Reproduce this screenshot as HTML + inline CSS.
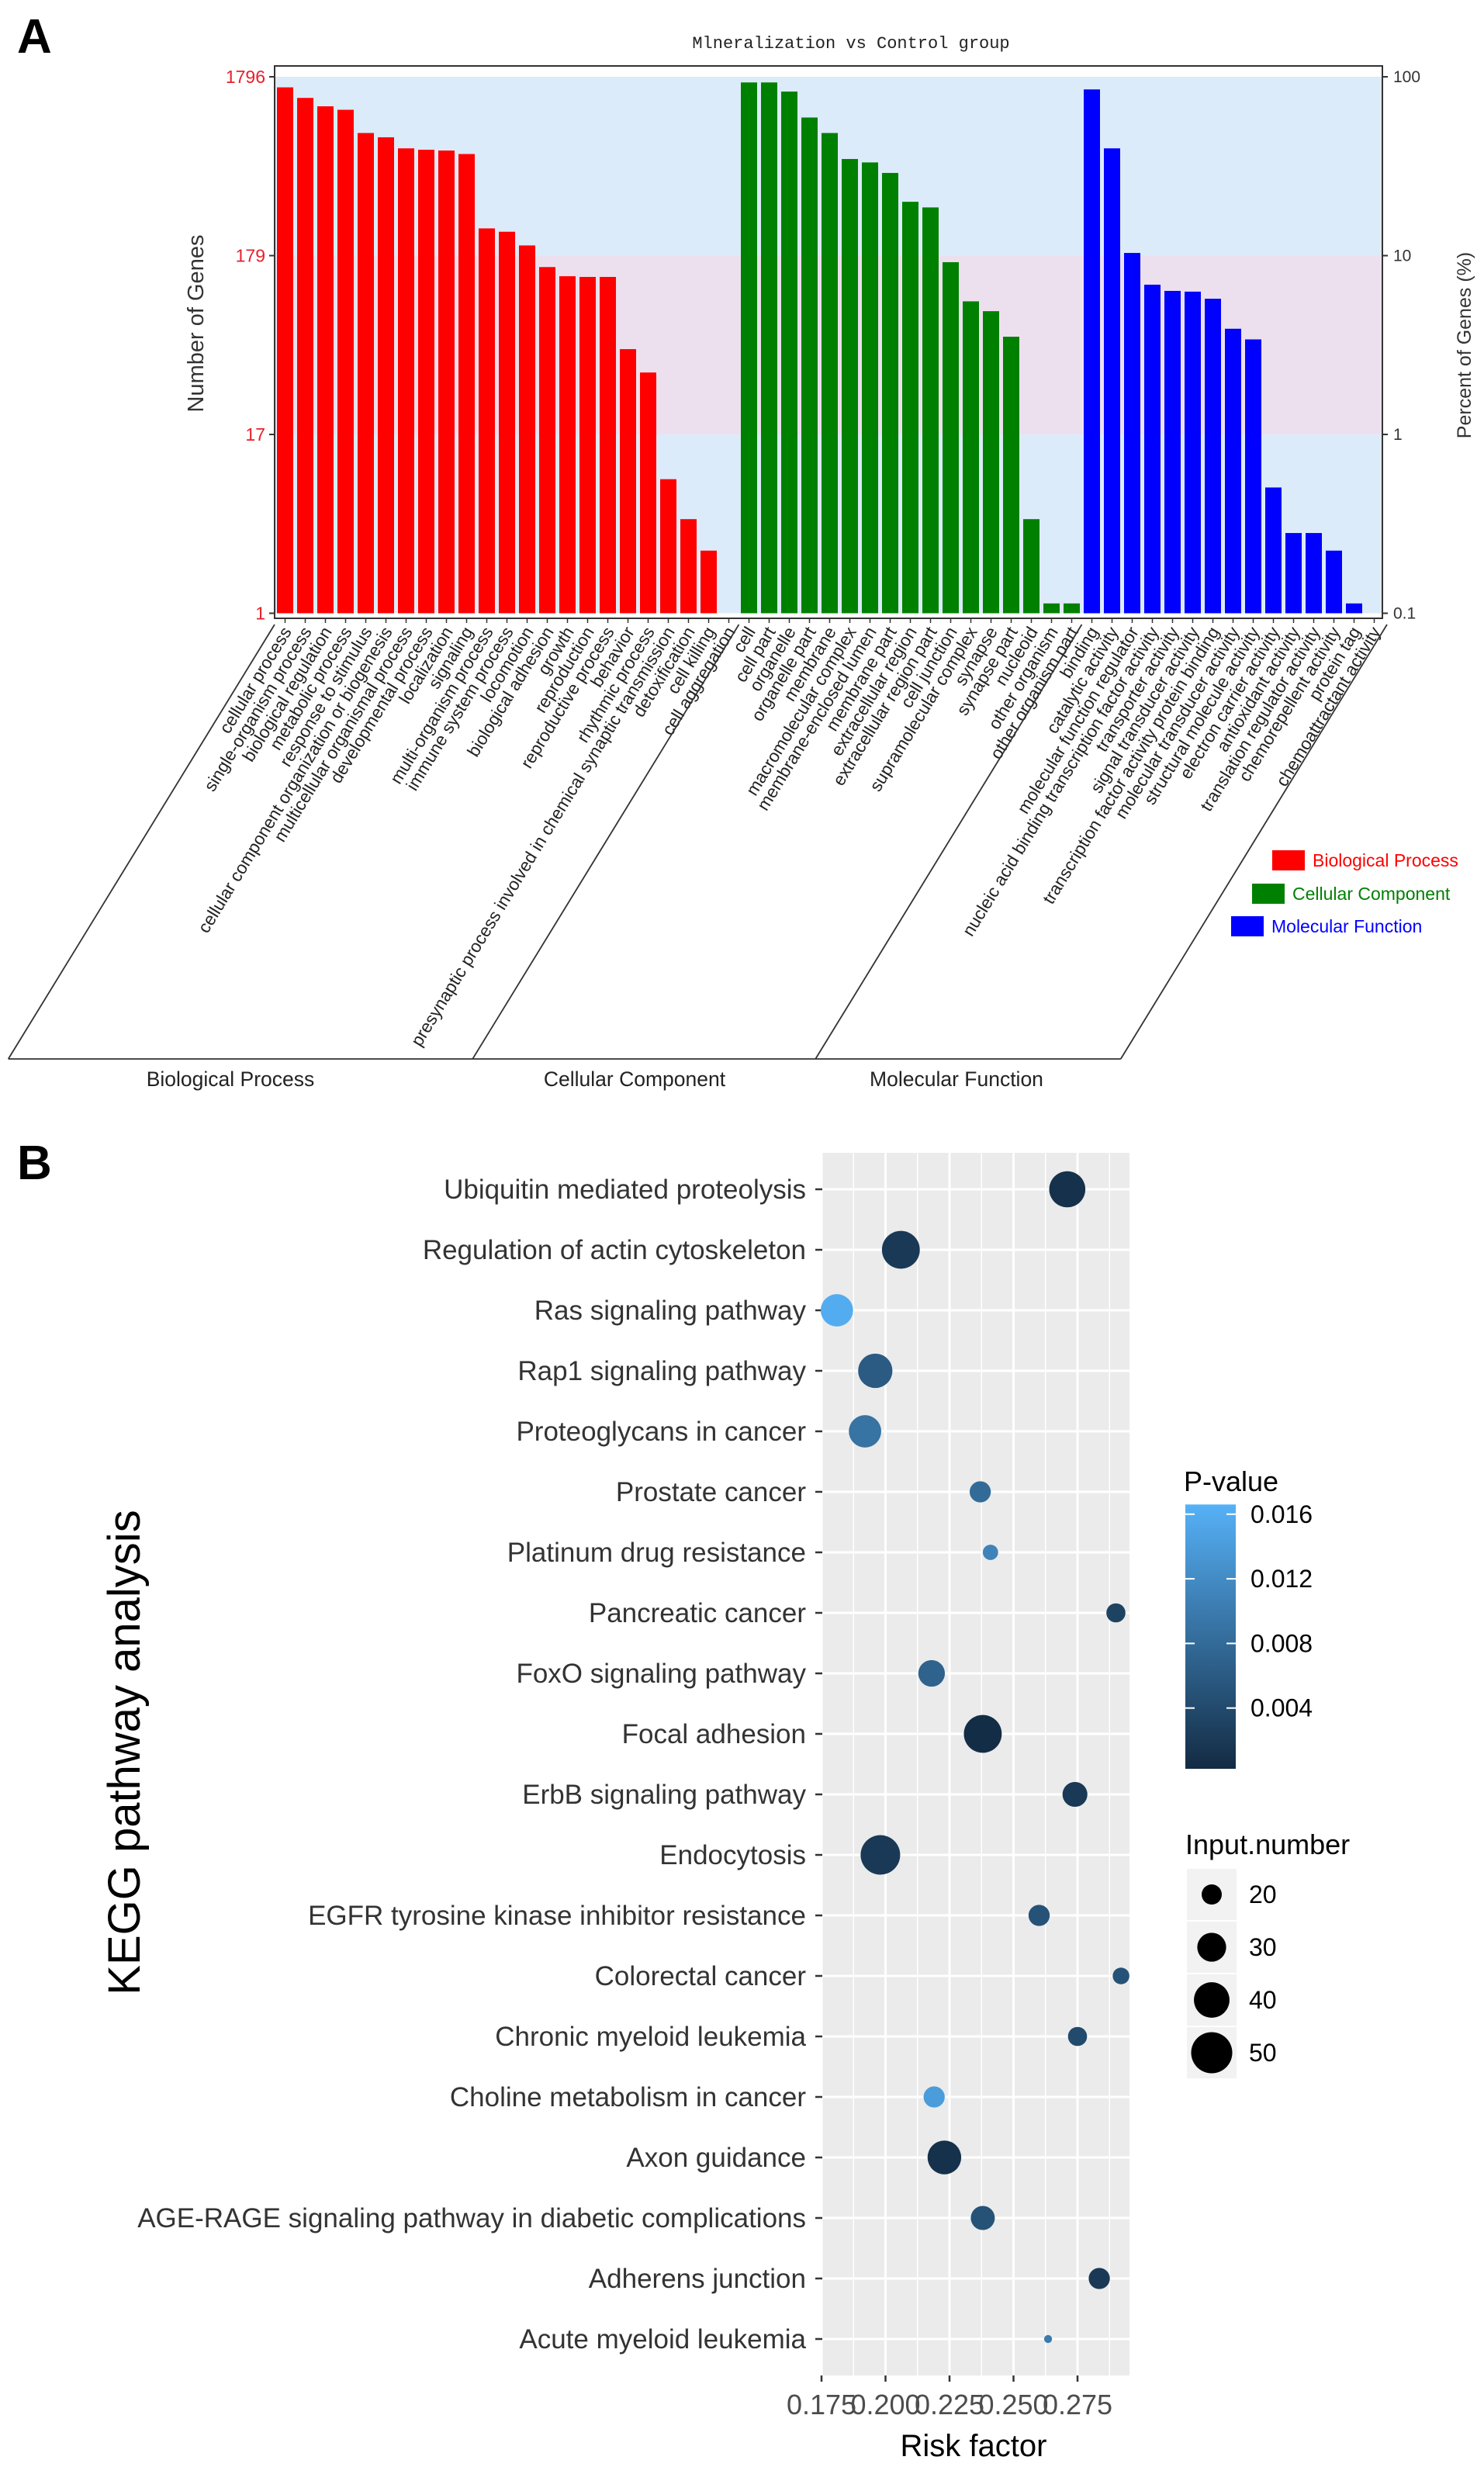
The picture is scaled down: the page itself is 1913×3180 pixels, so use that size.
<!DOCTYPE html>
<html><head><meta charset="utf-8"><style>
body{margin:0;background:#fff}
svg{display:block;font-family:"Liberation Sans",Arial,sans-serif}
</style></head><body>
<svg id="s" width="1913" height="3180" viewBox="0 0 1913 3180">
<text x="22" y="68" font-size="62" font-weight="bold">A</text>
<text x="22" y="1520" font-size="62" font-weight="bold">B</text>
<g id="ga"></g>
<g id="gb"></g>
</svg>
<script>
// ---------- Chart A data ----------
const bpLabels = ["cellular process","single-organism process","biological regulation","metabolic process","response to stimulus","cellular component organization or biogenesis","multicellular organismal process","developmental process","localization","signaling","multi-organism process","immune system process","locomotion","biological adhesion","growth","reproduction","reproductive process","behavior","rhythmic process","presynaptic process involved in chemical synaptic transmission","detoxification","cell killing","cell aggregation"];
const bpValues = [87.3,76.2,68.4,65.4,48.5,45.9,39.8,39.1,38.7,37.0,14.2,13.6,11.4,8.63,7.67,7.60,7.60,3.00,2.22,0.562,0.336,0.224,0.1];
const ccLabels = ["cell","cell part","organelle","organelle part","membrane","macromolecular complex","membrane-enclosed lumen","membrane part","extracellular region","extracellular region part","cell junction","supramolecular complex","synapse","synapse part","nucleoid","other organism","other organism part"];
const ccValues = [93.0,93.0,82.7,59.2,48.5,34.7,33.2,29.0,20.0,18.6,9.19,5.55,4.89,3.52,0.336,0.1135,0.1135];
const mfLabels = ["binding","catalytic activity","molecular function regulator","nucleic acid binding transcription factor activity","transporter activity","signal transducer activity","transcription factor activity protein binding","molecular transducer activity","structural molecule activity","electron carrier activity","antioxidant activity","translation regulator activity","chemorepellent activity","protein tag","chemoattractant activity"];
const mfValues = [85.0,39.8,10.35,6.88,6.35,6.29,5.74,3.90,3.40,0.505,0.281,0.281,0.224,0.1135,0.1];
const leftTicks = ["1796","179","17","1"];
const rightTicks = ["100","10","1","0.1"];
const tickPct = [100,10,1,0.1];

// ---------- Chart B data ----------
const pathways = ["Ubiquitin mediated proteolysis","Regulation of actin cytoskeleton","Ras signaling pathway","Rap1 signaling pathway","Proteoglycans in cancer","Prostate cancer","Platinum drug resistance","Pancreatic cancer","FoxO signaling pathway","Focal adhesion","ErbB signaling pathway","Endocytosis","EGFR tyrosine kinase inhibitor resistance","Colorectal cancer","Chronic myeloid leukemia","Choline metabolism in cancer","Axon guidance","AGE-RAGE signaling pathway in diabetic complications","Adherens junction","Acute myeloid leukemia"];
const riskFactor = [0.271,0.206,0.181,0.196,0.192,0.237,0.241,0.290,0.218,0.238,0.274,0.198,0.260,0.292,0.275,0.219,0.223,0.238,0.2835,0.2635];
const inputNumber = [41,44,35,38,35,21,16,19,27,44,25,47,21,17,19,21,37,24,21,12];
const pValue = [0.001,0.002,0.016,0.006,0.009,0.008,0.011,0.003,0.007,0.0005,0.002,0.002,0.005,0.005,0.004,0.014,0.001,0.005,0.002,0.010];
const xTicks = [0.175,0.200,0.225,0.250,0.275];
const xTickLabels = ["0.175","0.200","0.225","0.250","0.275"];
const pTicks = [0.016,0.012,0.008,0.004];
const sizeLegend = [20,30,40,50];

const NS="http://www.w3.org/2000/svg";
function mk(parent,tag,attrs,text){const e=document.createElementNS(NS,tag);for(const k in attrs)e.setAttribute(k,attrs[k]);if(text!==undefined)e.textContent=text;parent.appendChild(e);return e;}

// ===== Chart A =====
const ga=document.getElementById('ga');
const L=354,R=1782,T=85,B=797,Y100=99,DEC=230.5;
const yA=p=>Y100+(2-Math.log10(p))*DEC;
const slot=26,x0=367.5,bw=21;
let e;
e=mk(ga,'rect',{x:L,y:yA(100),width:R-L,height:yA(10)-yA(100),fill:'#dcebfa'});

e=mk(ga,'rect',{x:L,y:yA(10),width:R-L,height:yA(1)-yA(10),fill:'#ede0ee'});

e=mk(ga,'rect',{x:L,y:yA(1),width:R-L,height:yA(0.1)-yA(1),fill:'#dcebfa'});

e=mk(ga,'text',{x:1097,y:62,'font-size':22,'text-anchor':'middle','font-family':'Liberation Mono,monospace',fill:'#222'},'Mlneralization vs Control group');

const groups=[[bpLabels,bpValues,'#ff0000','bp'],[ccLabels,ccValues,'#008000','cc'],[mfLabels,mfValues,'#0000ff','mf']];
let idx=0;
groups.forEach(g=>{
  g[0].forEach((lab,i)=>{
    const cx=x0+idx*slot;const v=g[1][i];const top=yA(v);
    if(v>0.1){
      e=mk(ga,'rect',{x:cx-bw/2,y:top,width:bw,height:yA(0.1)-top,fill:g[2]});
      
    }
    e=mk(ga,'line',{x1:cx,y1:B,x2:cx,y2:B+6,stroke:'#333','stroke-width':1.5});
    e=mk(ga,'text',{x:0,y:0,'font-size':22.5,'text-anchor':'end',fill:'#222',transform:`translate(${cx+9},${B+17}) rotate(-58.5)`},lab);
    
    idx++;
  });
});
e=mk(ga,'rect',{x:L,y:T,width:R-L,height:B-T,fill:'none',stroke:'#333','stroke-width':2});

tickPct.forEach((p,i)=>{
  const y=yA(p);
  mk(ga,'line',{x1:L-7,y1:y,x2:L,y2:y,stroke:'#333','stroke-width':2});
  mk(ga,'line',{x1:R,y1:y,x2:R+7,y2:y,stroke:'#333','stroke-width':2});
  e=mk(ga,'text',{x:L-12,y:y+8,'font-size':23,'text-anchor':'end',fill:'#e8202a'},leftTicks[i]);
  
  e=mk(ga,'text',{x:R+14,y:y+7,'font-size':21,fill:'#333'},rightTicks[i]);
  
});
e=mk(ga,'text',{x:0,y:0,'font-size':29,'text-anchor':'middle',fill:'#333',transform:'translate(262,417) rotate(-90)'},'Number of Genes');

e=mk(ga,'text',{x:0,y:0,'font-size':25,'text-anchor':'middle',fill:'#333',transform:'translate(1896,445) rotate(-90)'},'Percent of Genes (%)');

// parallelogram
const BY=1365, slope=0.613;
const seps=[L,x0+22.5*slot,x0+39.5*slot,R+6];
seps.forEach(sx=>{mk(ga,'line',{x1:sx,y1:B+8,x2:sx-(BY-B-8)*slope,y2:BY,stroke:'#333','stroke-width':1.8});});
mk(ga,'line',{x1:seps[0]-(BY-B-8)*slope,y1:BY,x2:seps[3]-(BY-B-8)*slope,y2:BY,stroke:'#333','stroke-width':1.8});
[['Biological Process',297],['Cellular Component',818],['Molecular Function',1233]].forEach(d=>{
  e=mk(ga,'text',{x:d[1],y:1400,'font-size':26.5,'text-anchor':'middle',fill:'#222'},d[0]);
  
});
[['Biological Process','#ff0000',1640,1109],['Cellular Component','#008000',1614,1152],['Molecular Function','#0000ff',1587,1194]].forEach(d=>{
  e=mk(ga,'rect',{x:d[2],y:d[3]-13,width:42,height:26,fill:d[1]});
  
  e=mk(ga,'text',{x:d[2]+52,y:d[3]+8,'font-size':23,fill:d[1]},d[0]);
  
});

// ===== Chart B =====
const gb=document.getElementById('gb');
const PL=1060,PR=1456,PT=1486,PB=3062,ROW=78,Y0=1533;
const xB=v=>1059+(v-0.175)/0.025*82.5;
const yB=i=>Y0+i*ROW;
const rB=n=>Math.sqrt(Math.max(4,169+(n-20)*17.8));
const PMIN=0.00024,PMAX=0.0166;
function pCol(p){let t=(p-PMIN)/(PMAX-PMIN);t=Math.max(0,Math.min(1,t));
 const a=[19,43,67],b=[86,177,247];return `rgb(${a.map((c,k)=>Math.round(c+(b[k]-c)*t)).join(',')})`;}
e=mk(gb,'rect',{x:PL,y:PT,width:PR-PL,height:PB-PT,fill:'#ebebeb'});

for(let i=0;i<xTicks.length;i++){
  const v=xTicks[i];
  mk(gb,'line',{x1:xB(v+0.0125),y1:PT,x2:xB(v+0.0125),y2:PB,stroke:'#fff','stroke-width':1.5});
}
xTicks.forEach((v,i)=>{
  mk(gb,'line',{x1:xB(v),y1:PT,x2:xB(v),y2:PB,stroke:'#fff','stroke-width':3});
  mk(gb,'line',{x1:xB(v),y1:PB,x2:xB(v),y2:PB+8,stroke:'#333','stroke-width':2.5});
  e=mk(gb,'text',{x:xB(v),y:3112,'font-size':36,'text-anchor':'middle',fill:'#4d4d4d'},xTickLabels[i]);
  
});
pathways.forEach((p,i)=>{
  const y=yB(i);
  mk(gb,'line',{x1:PL,y1:y,x2:PR,y2:y,stroke:'#fff','stroke-width':3});
  mk(gb,'line',{x1:PL-9,y1:y,x2:PL,y2:y,stroke:'#333','stroke-width':2.5});
  e=mk(gb,'text',{x:PL-21,y:y+12,'font-size':35,'text-anchor':'end',fill:'#333'},p);
  
});
pathways.forEach((p,i)=>{
  e=mk(gb,'circle',{cx:xB(riskFactor[i]),cy:yB(i),r:rB(inputNumber[i]),fill:pCol(pValue[i])});
  
});
e=mk(gb,'text',{x:1255,y:3166,'font-size':40,'text-anchor':'middle',fill:'#000'},'Risk factor');

e=mk(gb,'text',{x:0,y:0,'font-size':58,'text-anchor':'middle',fill:'#000',transform:'translate(180,2259) rotate(-90)'},'KEGG pathway analysis');

// colorbar
const defs=mk(gb,'defs',{});
const lg=mk(defs,'linearGradient',{id:'cb',x1:0,y1:1,x2:0,y2:0});
mk(lg,'stop',{offset:0,'stop-color':'#132b43'});mk(lg,'stop',{offset:1,'stop-color':'#56b1f7'});
e=mk(gb,'text',{x:1526,y:1922,'font-size':36,fill:'#000'},'P-value');

const pY=p=>2285-p/0.004*83.3;
e=mk(gb,'rect',{x:1528,y:pY(PMAX),width:65,height:pY(PMIN)-pY(PMAX),fill:'url(#cb)'});

pTicks.forEach(p=>{
  const y=pY(p);
  mk(gb,'line',{x1:1528,y1:y,x2:1540,y2:y,stroke:'#fff','stroke-width':2});
  mk(gb,'line',{x1:1581,y1:y,x2:1593,y2:y,stroke:'#fff','stroke-width':2});
  e=mk(gb,'text',{x:1612,y:y+11,'font-size':32,fill:'#000'},p.toFixed(3));
  
});
e=mk(gb,'text',{x:1528,y:2390,'font-size':36,fill:'#000'},'Input.number');

sizeLegend.forEach((n,i)=>{
  const y=2442+i*68;
  mk(gb,'rect',{x:1530,y:y-33,width:64,height:66,fill:'#f2f2f2'});
  e=mk(gb,'circle',{cx:1562,cy:y,r:rB(n),fill:'#000'});
  
  e=mk(gb,'text',{x:1610,y:y+11,'font-size':32,fill:'#000'},String(n));
  
});
</script>
</body></html>
